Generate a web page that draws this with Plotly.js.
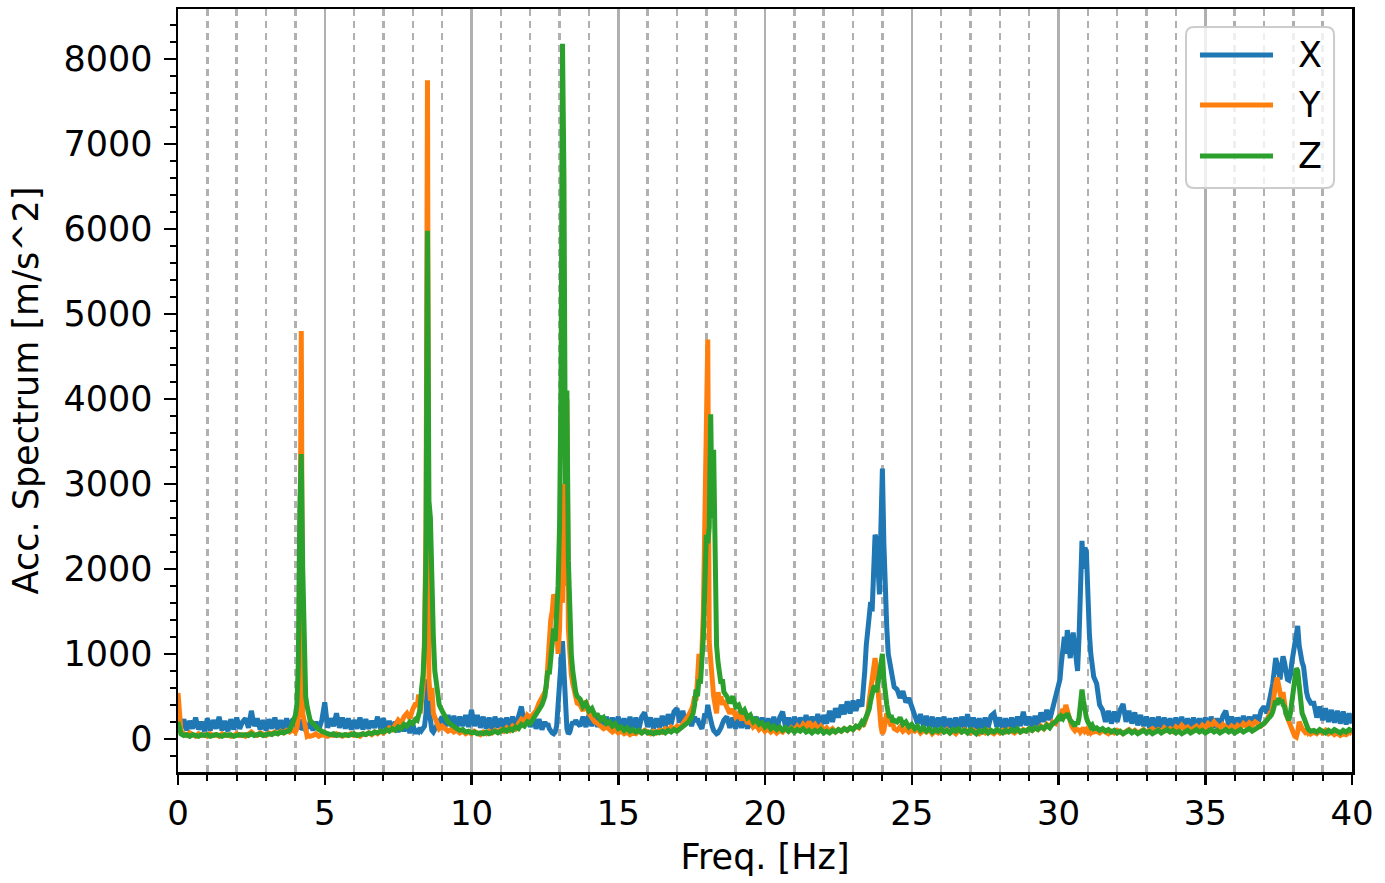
<!DOCTYPE html>
<html>
<head>
<meta charset="utf-8">
<script src="https://cdn.plot.ly/plotly-3.0.1.min.js"></script>
<style>html,body{margin:0;padding:0;background:#fff;}#chart{width:1385px;height:883px;}</style>
</head>
<body>
<div id="chart"></div>
<script>
// Frequency axis [Hz] (finer sampling around the resonance peaks)
const freq = [
0,0.1,0.2,0.3,0.4,0.5,0.6,0.7,0.8,0.9,1,1.1,1.2,1.3,1.4,1.5,1.6,1.7,1.8,1.9,2,2.1,2.2,2.3,2.4,2.5,2.6,2.7,2.8,2.9,3,3.1,3.2,3.3,3.4,3.5,3.6,3.7,3.8,3.9,
4,4.05,4.1,4.15,4.2,4.25,4.3,4.35,4.4,4.45,4.5,
4.6,4.7,4.8,4.9,5,5.1,5.2,5.3,5.4,5.5,5.6,5.7,5.8,5.9,6,6.1,6.2,6.3,6.4,6.5,6.6,6.7,6.8,6.9,7,7.1,7.2,7.3,7.4,7.5,7.6,7.7,7.8,7.9,8,8.1,
8.15,8.2,8.25,8.3,8.35,8.4,8.45,8.5,8.55,8.6,8.65,8.7,8.75,8.8,8.85,8.9,
9,9.1,9.2,9.3,9.4,9.5,9.6,9.7,9.8,9.9,10,10.1,10.2,10.3,10.4,10.5,10.6,10.7,10.8,10.9,11,11.1,11.2,11.3,11.4,11.5,11.6,11.7,11.8,11.9,12,12.1,12.2,12.3,12.4,
12.45,12.5,12.55,12.6,12.65,12.7,12.75,12.8,12.85,12.9,12.95,13,13.05,13.1,13.15,13.2,13.25,13.3,13.35,13.4,13.45,13.5,13.55,13.6,
13.7,13.8,13.9,14,14.1,14.2,14.3,14.4,14.5,14.6,14.7,14.8,14.9,15,15.1,15.2,15.3,15.4,15.5,15.6,15.7,15.8,15.9,16,16.1,16.2,16.3,16.4,16.5,16.6,16.7,16.8,16.9,17,17.1,17.2,17.3,17.4,17.5,
17.55,17.6,17.65,17.7,17.75,17.8,17.85,17.9,17.95,18,18.05,18.1,18.15,18.2,18.25,18.3,18.35,18.4,18.45,18.5,18.55,18.6,
18.7,18.8,18.9,19,19.1,19.2,19.3,19.4,19.5,19.6,19.7,19.8,19.9,20,20.1,20.2,20.3,20.4,20.5,20.6,20.7,20.8,20.9,21,21.1,21.2,21.3,21.4,21.5,21.6,21.7,21.8,21.9,22,22.1,22.2,22.3,22.4,22.5,22.6,22.7,22.8,22.9,23,23.1,23.2,23.3,
23.35,23.4,23.45,23.5,23.55,23.6,23.65,23.7,23.75,23.8,23.85,23.9,23.95,24,24.05,24.1,24.15,24.2,24.25,24.3,24.35,24.4,
24.5,24.6,24.7,24.8,24.9,25,25.1,25.2,25.3,25.4,25.5,25.6,25.7,25.8,25.9,26,26.1,26.2,26.3,26.4,26.5,26.6,26.7,26.8,26.9,27,27.1,27.2,27.3,27.4,27.5,27.6,27.7,27.8,27.9,28,28.1,28.2,28.3,28.4,28.5,28.6,28.7,28.8,28.9,29,29.1,29.2,29.3,29.4,29.5,29.6,29.7,29.8,29.9,30,
30.05,30.1,30.15,30.2,30.25,30.3,30.35,30.4,30.45,30.5,30.55,30.6,30.65,30.7,30.75,30.8,30.85,30.9,30.95,31,31.05,31.1,31.15,31.2,
31.3,31.4,31.5,31.6,31.7,31.8,31.9,32,32.1,32.2,32.3,32.4,32.5,32.6,32.7,32.8,32.9,33,33.1,33.2,33.3,33.4,33.5,33.6,33.7,33.8,33.9,34,34.1,34.2,34.3,34.4,34.5,34.6,34.7,34.8,34.9,35,35.1,35.2,35.3,35.4,35.5,35.6,35.7,35.8,35.9,36,36.1,36.2,36.3,36.4,36.5,36.6,36.7,36.8,36.9,37,37.1,37.2,
37.25,37.3,37.35,37.4,37.45,37.5,37.55,37.6,37.65,37.7,37.75,37.8,37.85,37.9,37.95,38,38.05,38.1,38.15,38.2,38.25,38.3,38.35,38.4,38.45,38.5,38.55,38.6,
38.7,38.8,38.9,39,39.1,39.2,39.3,39.4,39.5,39.6,39.7,39.8,39.9,40
];

// Acc. spectrum, X direction
const accX = [
280,120,230,100,210,120,250,110,200,90,240,100,220,120,260,100,210,90,230,110,250,120,200,240,130,330,150,240,110,220,100,230,120,250,110,220,100,240,130,220,
240,120,200,110,230,100,210,90,180,120,200,
100,200,110,220,430,130,240,150,300,130,250,120,240,110,220,120,250,110,230,120,210,130,260,120,240,100,210,90,200,80,190,90,180,70,170,60,
110,90,130,100,120,150,300,700,350,150,100,80,120,150,180,200,
260,140,280,150,270,140,260,150,280,140,340,150,280,130,260,120,250,110,260,130,240,120,250,130,260,140,280,380,180,270,140,260,120,230,110,
170,200,150,180,120,90,70,60,80,150,400,800,1000,1150,800,400,120,60,80,150,200,170,220,190,
150,260,140,280,150,290,140,270,130,260,120,250,130,260,120,240,110,260,120,250,110,260,310,140,250,120,240,130,270,140,290,170,320,360,190,330,170,280,150,
220,260,200,240,180,150,120,200,300,250,400,300,200,150,100,80,60,70,90,130,180,220,
260,130,250,120,260,130,270,120,250,130,260,120,250,130,240,120,260,110,250,320,140,250,120,260,130,250,140,280,130,260,160,290,150,280,180,330,200,360,250,400,290,440,300,450,330,460,380,
550,800,1100,1320,1450,1610,1500,2000,2400,2350,2000,1700,2500,3180,2300,1600,1300,1000,890,750,650,610,
580,480,560,430,480,380,300,180,290,150,270,130,260,120,250,130,260,120,240,110,250,120,260,130,290,130,250,120,240,110,250,130,270,300,140,250,120,240,110,250,130,260,150,320,160,260,140,270,160,310,200,340,220,350,450,580,
700,900,1100,1200,1000,1280,1100,950,1150,1250,1100,930,800,1200,1800,2330,2000,2250,2200,1600,1250,1000,900,730,
650,400,340,200,330,180,320,200,340,410,200,330,180,310,160,280,150,260,130,250,120,260,130,250,120,240,110,250,120,260,110,240,120,250,110,240,130,250,120,260,130,240,140,270,330,150,260,130,250,140,270,150,260,160,280,180,330,380,300,460,
600,650,800,950,880,750,700,850,970,900,750,700,690,750,900,1000,1150,1250,1330,1100,950,900,850,650,550,480,450,420,
420,250,380,220,360,200,340,190,330,180,320,170,300,180
];

// Acc. spectrum, Y direction
const accY = [
540,90,60,40,70,50,30,60,40,50,30,60,40,50,30,60,40,50,30,40,60,40,50,30,60,80,50,40,70,50,40,70,60,80,60,90,70,100,80,110,
80,120,250,1500,4800,300,200,60,30,40,30,
40,60,30,50,40,30,50,40,60,40,30,50,40,60,40,50,30,60,50,70,50,80,60,90,70,100,130,110,160,220,180,260,300,240,350,420,
380,520,300,450,600,1200,2500,7750,700,450,600,300,250,180,150,120,
150,120,90,110,80,100,70,90,60,80,60,90,70,50,80,60,90,70,100,80,110,90,130,100,150,120,180,230,200,280,250,300,330,420,480,
500,550,610,900,1200,1400,1500,1700,1650,1200,1000,1300,2000,1600,3000,1800,4000,1300,900,760,650,550,480,420,
400,330,450,300,250,200,180,150,120,140,100,80,110,70,90,60,80,50,70,60,90,70,100,80,60,90,70,100,80,120,100,140,110,150,130,180,220,280,350,
400,500,450,700,1000,850,1020,1500,2500,3500,4700,1140,900,700,500,400,300,550,450,500,400,450,
380,300,350,260,300,220,320,180,220,140,170,110,140,90,120,80,110,70,100,80,120,90,130,100,150,110,170,130,200,140,170,110,150,100,130,90,120,80,110,90,120,100,130,110,150,130,180,
150,200,250,300,450,600,700,850,950,800,500,300,150,60,100,200,300,250,200,150,180,120,
100,140,90,120,80,110,90,120,70,100,80,110,60,90,70,100,80,110,70,90,60,100,80,110,90,70,100,80,60,90,70,100,80,60,90,70,100,80,110,90,70,100,80,110,90,120,100,130,110,150,120,170,140,200,180,250,
250,300,350,300,400,330,250,200,150,120,100,130,90,120,80,100,130,90,110,80,100,70,90,80,
90,70,100,80,60,90,70,100,80,60,90,110,80,100,70,90,110,80,100,120,90,110,80,130,100,120,90,140,110,160,120,140,100,130,150,110,160,130,180,150,200,160,130,170,140,110,150,120,160,130,180,150,190,160,200,170,150,180,220,300,
300,400,550,650,720,600,500,450,550,400,300,250,200,150,100,60,30,20,80,200,150,120,100,80,100,70,90,60,
80,60,90,70,100,60,80,50,70,40,60,50,80,60
];

// Acc. spectrum, Z direction
const accZ = [
200,60,40,50,30,50,40,30,50,40,50,30,40,50,40,30,50,40,50,30,40,50,40,50,40,60,40,50,60,40,50,60,50,70,60,80,70,90,100,180,
280,400,900,2700,3350,2000,900,500,380,300,220,
180,140,110,90,70,60,50,60,40,50,40,50,40,50,60,40,50,60,50,70,60,80,70,90,80,110,90,120,100,140,120,170,150,200,180,230,
220,280,350,600,750,1100,2200,5980,2800,2600,1700,1200,800,650,500,400,
330,260,200,170,140,120,100,110,80,90,70,80,60,70,60,80,60,70,90,70,90,110,90,120,100,140,120,170,150,200,180,230,280,330,400,
450,500,650,800,760,1000,1100,1300,1150,1400,1800,2500,4200,8180,6600,3000,4100,2100,1400,1000,800,650,550,500,
470,380,420,330,360,280,280,220,250,180,200,150,180,120,140,100,130,90,110,80,100,70,90,70,80,60,80,70,90,70,100,80,110,90,120,140,170,200,260,
300,400,580,500,700,650,900,1200,1800,2400,2300,2500,3820,2600,3400,1600,1100,900,800,650,700,550,
500,420,500,380,400,300,340,250,280,200,230,170,190,140,170,120,150,110,140,100,130,90,120,80,110,90,120,80,100,70,100,80,110,70,90,70,100,80,110,90,120,100,130,110,150,140,200,
180,220,260,300,350,450,550,600,620,550,650,750,850,1000,700,500,400,300,250,280,200,220,
200,250,170,200,140,170,120,150,100,130,90,120,80,110,90,120,80,100,70,110,90,120,80,100,70,110,90,60,100,80,110,70,100,80,110,90,70,100,80,110,90,120,80,100,90,120,100,130,110,140,120,160,130,180,200,250,
220,260,240,280,250,300,250,220,200,180,150,200,170,250,400,580,450,300,250,200,170,140,160,120,
130,100,120,90,110,80,100,70,90,60,80,100,70,90,60,80,100,70,90,60,80,100,70,90,110,80,100,70,90,60,80,100,70,90,110,80,100,70,90,110,80,100,70,90,110,80,100,70,90,110,80,100,120,90,110,130,150,180,220,250,
280,320,380,450,400,480,420,460,400,380,300,250,220,300,450,600,750,830,800,600,400,300,260,200,150,120,100,90,
100,80,110,90,70,100,80,110,90,70,100,80,110,90
];

const seriesNames = ['X', 'Y', 'Z'];
const seriesColors = ['#1f77b4', '#ff7f0e', '#2ca02c'];
const seriesValues = [accX, accY, accZ];

const traces = seriesValues.map((vals, i) => ({
  type: 'scatter',
  mode: 'lines',
  x: freq,
  y: vals,
  name: seriesNames[i],
  showlegend: false,
  line: {color: seriesColors[i], width: 5},
  hoverinfo: 'skip'
}));

// Legend drawn in matplotlib style (long line samples, rounded frame)
const lgX0 = 0.8586, lgX1 = 0.9847, lgY0 = 0.7654, lgY1 = 0.9764;
const rx = 8 / 1174, ry = 8 / 763;
const legendFrame = {
  type: 'path', xref: 'paper', yref: 'paper', layer: 'above',
  path: `M ${lgX0 + rx},${lgY0} L ${lgX1 - rx},${lgY0} Q ${lgX1},${lgY0} ${lgX1},${lgY0 + ry} ` +
        `L ${lgX1},${lgY1 - ry} Q ${lgX1},${lgY1} ${lgX1 - rx},${lgY1} L ${lgX0 + rx},${lgY1} ` +
        `Q ${lgX0},${lgY1} ${lgX0},${lgY1 - ry} L ${lgX0},${lgY0 + ry} Q ${lgX0},${lgY0} ${lgX0 + rx},${lgY0} Z`,
  fillcolor: 'rgba(255,255,255,0.8)', line: {color: '#cccccc', width: 2}
};
const legendRows = [0.9397, 0.8742, 0.8073];
const legendShapes = legendRows.map((yy, i) => ({
  type: 'line', xref: 'paper', yref: 'paper', layer: 'above',
  x0: 0.8705, x1: 0.9327, y0: yy, y1: yy,
  line: {color: seriesColors[i], width: 5}
}));
const legendTexts = legendRows.map((yy, i) => ({
  xref: 'paper', yref: 'paper', x: 0.9642, y: yy, xanchor: 'center', yanchor: 'middle',
  text: seriesNames[i], showarrow: false,
  font: {family: 'DejaVu Sans', size: 35, color: '#000'}
}));

const axisCommon = {
  showline: true, linewidth: 2.5, linecolor: '#000', mirror: true,
  ticks: 'outside', tickwidth: 2.5, tickcolor: '#000',
  zeroline: false
};

const layout = {
  width: 1385, height: 883,
  margin: {l: 178, r: 33, t: 9, b: 111, pad: 0},
  paper_bgcolor: '#fff', plot_bgcolor: '#fff',
  font: {family: 'DejaVu Sans', size: 35, color: '#000'},
  showlegend: false,
  shapes: [legendFrame].concat(legendShapes),
  annotations: legendTexts,
  xaxis: Object.assign({}, axisCommon, {
    range: [0, 40], tickmode: 'linear', tick0: 0, dtick: 5, ticklen: 10,
    tickfont: {family: 'DejaVu Sans', size: 34, color: '#000'},
    showgrid: true, gridcolor: '#b0b0b0', gridwidth: 2.5,
    minor: {tickmode: 'linear', tick0: 0, dtick: 1, ticks: 'outside', ticklen: 6, tickwidth: 2, tickcolor: '#000',
            showgrid: true, gridcolor: '#b0b0b0', gridwidth: 2.5, griddash: '7px,5px'},
    title: {text: 'Freq. [Hz]', font: {family: 'DejaVu Sans', size: 35, color: '#000'}, standoff: 12}
  }),
  yaxis: Object.assign({}, axisCommon, {
    range: [-390, 8588], tickmode: 'linear', tick0: 0, dtick: 1000, ticklen: 12,
    tickfont: {family: 'DejaVu Sans', size: 35, color: '#000'},
    ticklabelstandoff: 4,
    showgrid: false,
    minor: {tickmode: 'linear', tick0: 0, dtick: 200, ticks: 'outside', ticklen: 6, tickwidth: 2, tickcolor: '#000', showgrid: false},
    title: {text: 'Acc. Spectrum [m/s^2]', font: {family: 'DejaVu Sans', size: 35, color: '#000'}, standoff: 14}
  })
};

Plotly.newPlot('chart', traces, layout, {staticPlot: true, displayModeBar: false});
</script>
</body>
</html>
